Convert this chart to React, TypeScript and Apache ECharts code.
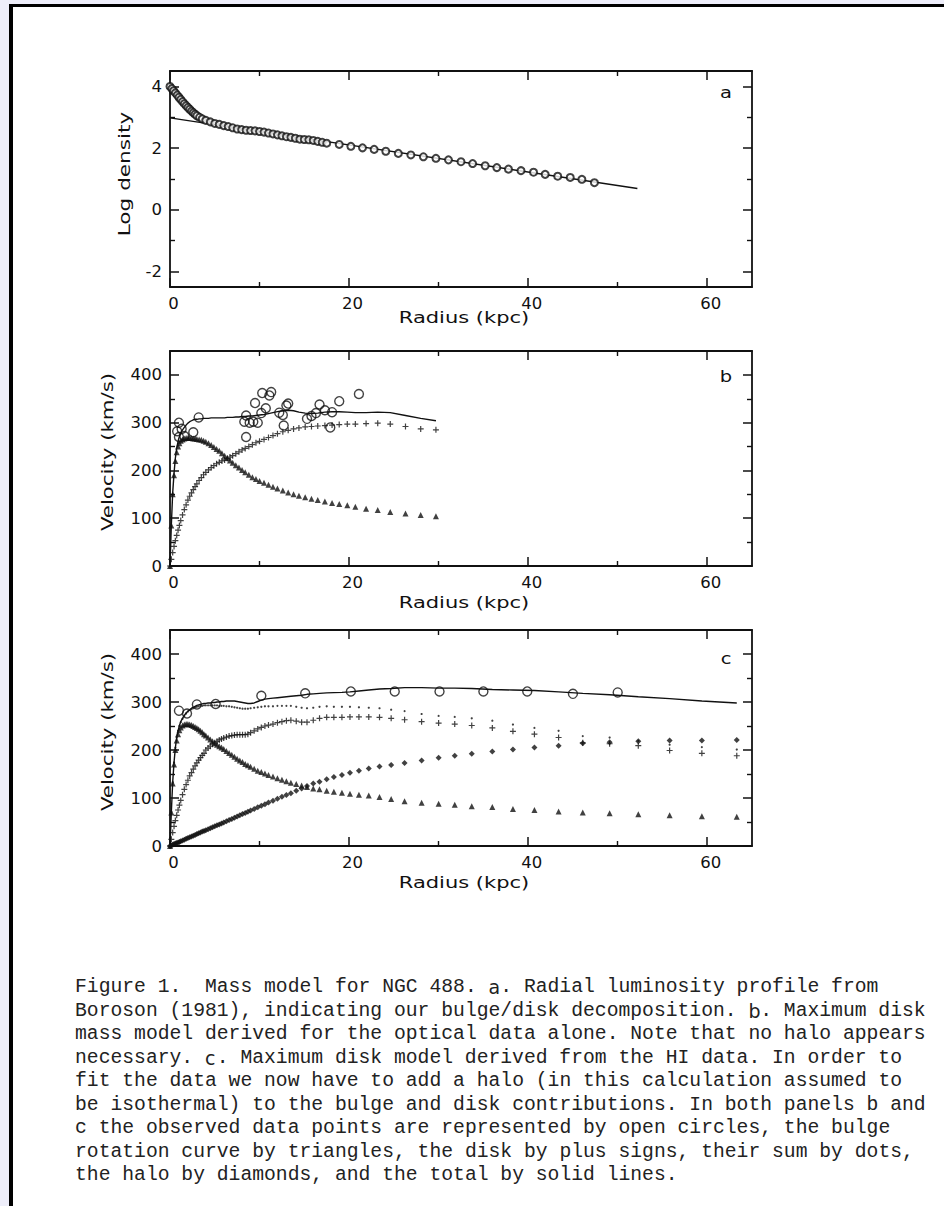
import React, { useEffect, useRef } from "react";
import * as echarts from "echarts";

// ---------- Panel a: radial luminosity profile ----------
const aRadius = [0, 0.2, 0.4, 0.6, 0.8, 1.0, 1.2, 1.4, 1.6, 1.8, 2.0, 2.2, 2.4, 2.6, 2.8, 3.0, 3.3, 3.6,
  4.0, 4.5, 5.0, 5.5, 6.0, 6.5, 7.0, 7.5, 8.0, 8.5, 9.0, 9.5, 10.0, 10.5, 11.0, 11.5, 12.0, 12.5, 13.0, 13.5,
  14.0, 14.5, 15.0, 15.5, 16.0, 16.5, 17.0, 17.5,
  18.9, 20.2, 21.5, 22.8, 24.1, 25.5, 26.9, 28.3, 29.7, 31.1, 32.5, 33.8, 35.2, 36.5, 37.8, 39.2, 40.6, 41.9,
  43.3, 44.7, 46.0, 47.4];
const aLogDensity = [4.0, 3.93, 3.86, 3.79, 3.72, 3.65, 3.58, 3.51, 3.44, 3.38, 3.32, 3.26, 3.2, 3.15, 3.1, 3.05, 3.0, 2.95,
  2.9, 2.85, 2.8, 2.77, 2.73, 2.7, 2.66, 2.62, 2.6, 2.58, 2.57, 2.56, 2.54, 2.52, 2.49, 2.46, 2.43, 2.4, 2.37, 2.35,
  2.32, 2.29, 2.28, 2.27, 2.25, 2.22, 2.19, 2.16,
  2.12, 2.06, 2.01, 1.96, 1.9, 1.83, 1.78, 1.72, 1.67, 1.62, 1.56, 1.5, 1.43, 1.37, 1.32, 1.27, 1.22, 1.15,
  1.09, 1.05, 0.99, 0.88];
const aFitRadius = [0, 52.2];
const aFitLog = [2.98, 0.69];

// ---------- Panel b: optical data, maximum disk ----------
const bRadius = [0, 0.15, 0.3, 0.45, 0.6, 0.75, 0.9, 1.05, 1.2, 1.4, 1.6, 1.8, 2.0, 2.2, 2.4, 2.6, 2.8, 3.0,
  3.25, 3.5, 3.75, 4.0, 4.3, 4.6, 4.9, 5.2, 5.5, 5.8, 6.1, 6.4, 6.7, 7.0, 7.35, 7.7, 8.05, 8.4, 8.8, 9.2, 9.6, 10.0,
  10.5, 11.0, 11.5, 12.0, 12.6, 13.2, 13.8, 14.4, 15.1, 15.8, 16.5, 17.3, 18.1, 18.9, 19.8, 20.7,
  21.9, 23.2, 24.6, 26.3, 28.0, 29.7];
const bBulge = [0, 85, 150, 190, 220, 238, 250, 257, 262, 265, 267, 268, 268, 268, 268, 267, 267, 266,
  265, 264, 262, 260, 257, 253, 249, 245, 241, 236, 231, 226, 221, 216, 211, 206, 201, 196, 191, 186, 182, 178,
  174, 170, 166, 162, 158, 154, 150, 147, 144, 141, 138, 135, 132, 130, 127, 124,
  120, 117, 113, 110, 107, 104];
const bDisk = [0, 14, 28, 41, 53, 64, 75, 85, 95, 107, 118, 128, 138, 146, 153, 160, 166, 172,
  179, 185, 191, 196, 201, 206, 210, 214, 217, 220, 222, 225, 228, 231, 235, 239, 243, 246, 250, 254, 258, 261,
  265, 269, 273, 277, 281, 284, 287, 289, 291, 292, 293, 294, 295, 296, 297, 297,
  298, 299, 297, 292, 287, 285];
const bTotal = [0, 86, 153, 194, 226, 246, 261, 271, 279, 285, 290, 295, 299, 302, 304, 306, 307, 307,
  308, 308, 309, 309, 309, 310, 310, 310, 310, 310, 310, 311, 311, 311, 312, 312, 313, 313, 314, 314, 315, 316,
  317, 319, 321, 323, 325, 326, 325, 322, 320, 319, 320, 322, 323, 323, 322, 321,
  321, 322, 321, 315, 309, 304];
const bObsRadius = [1.0, 0.8, 1.3, 1.6, 1.0, 2.6, 3.2, 8.3, 8.5, 8.5, 8.9, 9.3, 9.5, 9.8, 10.2, 10.3, 10.7, 11.1,
  11.3, 12.2, 12.6, 12.7, 13.0, 13.2, 15.3, 15.8, 16.3, 16.7, 17.3, 17.9, 18.1, 18.9, 21.1];
const bObsVel = [300, 282, 287, 272, 270, 280, 311, 302, 315, 270, 300, 302, 341, 300, 320, 362, 330, 357,
  364, 321, 316, 294, 336, 340, 308, 314, 320, 338, 326, 290, 322, 345, 360];

// ---------- Panel c: HI data, maximum disk + halo ----------
const cRadius = [0, 0.15, 0.3, 0.45, 0.6, 0.75, 0.9, 1.05, 1.2, 1.4, 1.6, 1.8, 2.0, 2.2, 2.4, 2.6, 2.8, 3.0,
  3.2, 3.4, 3.6, 3.8, 4.0, 4.25, 4.5, 4.75, 5.0, 5.25, 5.5, 5.75, 6.0,
  6.3, 6.6, 6.9, 7.2, 7.5, 7.8, 8.1, 8.4, 8.7, 9.0, 9.4, 9.8, 10.2, 10.6, 11.0,
  11.5, 12.0, 12.5, 13.0, 13.5, 14.1, 14.7, 15.3,
  16.0, 16.7, 17.5, 18.3, 19.2, 20.1, 21.1, 22.2, 23.4, 24.7,
  26.2, 28.1, 30.0, 31.8, 33.7, 36.0, 38.3, 40.7, 43.4, 46.1, 49.1, 52.3, 55.8, 59.4, 63.3];
const cBulge = [0, 70, 130, 170, 200, 220, 233, 241, 247, 251, 253, 254, 254, 253, 252, 250, 248, 246,
  243, 240, 237, 233, 230, 226, 222, 218, 214, 211, 208, 205, 202,
  198, 194, 190, 186, 182, 178, 175, 171, 168, 165, 161, 157, 154, 151, 148,
  145, 141, 138, 135, 132, 129, 126, 123,
  120, 118, 115, 113, 111, 109, 107, 105, 102, 98,
  93, 90, 88, 86, 83, 81, 77, 75, 72, 70, 68, 66, 64, 62, 61];
const cDisk = [0, 14, 28, 41, 53, 64, 75, 85, 95, 107, 118, 128, 137, 146, 153, 160, 167, 173,
  179, 184, 189, 193, 200, 204, 208, 212, 215, 218, 221, 223, 225,
  227, 229, 230, 231, 232, 232, 232, 232, 233, 236, 240, 244, 247, 250, 252,
  254, 257, 259, 261, 262, 260, 258, 258,
  262, 266, 268, 268, 268, 269, 269, 269, 268, 266,
  263, 259, 256, 254, 251, 246, 239, 233, 226, 215, 213, 209, 199, 193, 188];
const cHalo = [0, 1, 2.5, 4, 5, 6, 7.5, 8.5, 10, 11.5, 13, 15, 16.5, 18, 20, 21.5, 23, 25,
  26.5, 28, 30, 31.5, 33, 35, 37, 39, 41, 43, 45, 47, 49,
  51.5, 54, 56.5, 59, 61.5, 64, 66.5, 69, 71.5, 74, 77, 80.5, 84, 87, 90.5,
  94.5, 98.5, 102.5, 106.5, 110, 115, 120, 125,
  130, 134, 139, 143.5, 148, 152.5, 157, 161.5, 165.5, 169,
  173, 178, 184, 188, 192, 197, 201, 205, 209, 214, 216, 218, 220, 220, 221];
const cSum = [0, 71, 133, 174, 205, 226, 240, 250, 258, 265, 271, 276, 280, 283, 285, 287, 289, 290,
  291, 292, 292, 293, 293, 293, 293, 293, 293, 293, 292, 292, 292,
  291, 291, 290, 289, 288, 287, 286, 286, 286, 287, 288, 289, 290, 291, 291,
  291, 292, 292, 292, 292, 290, 288, 287,
  288, 290, 291, 290, 290, 290, 289, 288, 287, 284,
  281, 275, 271, 269, 266, 261, 253, 246, 240, 229, 226, 219, 211, 206, 201];
const cTotal = [0, 71, 133, 174, 205, 226, 240, 251, 259, 266, 272, 277, 281, 284, 287, 289, 291, 293,
  294, 295, 296, 297, 297, 298, 298, 299, 299, 300, 300, 301, 301,
  302, 302, 302, 302, 301, 300, 299, 298, 297, 297, 298, 301, 304, 306, 307,
  308, 309, 310, 311, 312, 313, 314, 316,
  317, 318, 319, 319.5, 320, 321, 323, 325, 327, 328,
  330, 330, 329, 329, 328, 326, 325, 324, 321, 318, 315, 311, 307, 302, 298];
const cObsRadius = [1.0, 1.9, 3.0, 5.1, 10.2, 15.1, 20.2, 25.1, 30.1, 35.0, 39.9, 45.0, 50.0];
const cObsVel = [282, 276, 295, 296, 313, 318, 322, 322, 322, 322, 322, 317, 320];

// ---------- Axis ticks and labels ----------
const xMajor = [0, 20, 40, 60];
const yMajorA = [-2, 0, 2, 4];
const yMajorV = [0, 100, 200, 300, 400];
const xTitle = "Radius (kpc)";
const yTitleA = "Log density";
const yTitleV = "Velocity (km/s)";
const panelLetters = ["a", "b", "c"];

const captionLines = [
  "Figure 1.  Mass model for NGC 488. {s|a}. Radial luminosity profile from",
  "Boroson (1981), indicating our bulge/disk decomposition. {s|b}. Maximum disk",
  "mass model derived for the optical data alone. Note that no halo appears",
  "necessary. {s|c}. Maximum disk model derived from the HI data. In order to",
  "fit the data we now have to add a halo (in this calculation assumed to",
  "be isothermal) to the bulge and disk contributions. In both panels b and",
  "c the observed data points are represented by open circles, the bulge",
  "rotation curve by triangles, the disk by plus signs, their sum by dots,",
  "the halo by diamonds, and the total by solid lines.",
];

const INK = "#111111";
const AX_FONT = "DejaVu Sans";
const PLUS = "path://M2,0H3V2H5V3H3V5H2V3H0V2H2Z";

const zip = (xs: number[], ys: number[]) => xs.map((x, i) => [x, ys[i]]);

const GRIDS = [
  { left: 170, top: 71, width: 582, height: 216 },
  { left: 170, top: 351, width: 582, height: 215 },
  { left: 170, top: 630, width: 582, height: 216 },
];

function xAxisFor(g: number, pos: "bottom" | "top") {
  return {
    type: "value",
    gridIndex: g,
    position: pos,
    min: 0,
    max: 65,
    interval: 20,
    axisLine: { show: true, onZero: false, lineStyle: { color: INK, width: 1.8 } },
    axisTick: { show: true, inside: true, length: 9, customValues: xMajor, lineStyle: { color: INK, width: 1.5 } },
    minorTick: { show: true, splitNumber: 2, length: 5, lineStyle: { color: INK, width: 1.4 } },
    axisLabel:
      pos === "bottom"
        ? { show: true, customValues: xMajor, margin: 8, padding: [0, 0, 0, 7], fontFamily: AX_FONT, fontSize: 16.5, color: INK }
        : { show: false },
    splitLine: { show: false },
    minorSplitLine: { show: false },
  };
}

function yAxisFor(g: number, pos: "left" | "right") {
  const isA = g === 0;
  const major = isA ? yMajorA : yMajorV;
  const base: any = {
    type: "value",
    gridIndex: g,
    position: pos,
    min: isA ? -2.5 : 0,
    max: isA ? 4.5 : 450,
    axisLine: { show: true, onZero: false, lineStyle: { color: INK, width: 1.8 } },
    axisTick: { show: true, inside: true, length: 9, customValues: major, lineStyle: { color: INK, width: 1.5 } },
    minorTick: { show: true, splitNumber: 2, length: 5, lineStyle: { color: INK, width: 1.4 } },
    axisLabel:
      pos === "left"
        ? { show: true, customValues: major, margin: 8, fontFamily: AX_FONT, fontSize: 16.5, color: INK }
        : { show: false },
    splitLine: { show: false },
    minorSplitLine: { show: false },
  };
  if (isA) base.splitNumber = 3;
  else base.interval = 100;
  return base;
}

function textEl(text: string, x: number, y: number, rot = 0, sx = 1.4, size = 15) {
  return {
    type: "text",
    x,
    y,
    rotation: rot,
    scaleX: sx,
    silent: true,
    z: 10,
    style: {
      text,
      fontFamily: AX_FONT,
      fontSize: size,
      fill: INK,
      align: "center",
      verticalAlign: "middle",
      textAlign: "center",
      textVerticalAlign: "middle",
    },
  };
}

function buildOption() {
  const xAxes: any[] = [];
  const yAxes: any[] = [];
  for (let g = 0; g < 3; g++) {
    xAxes.push(xAxisFor(g, "bottom"), xAxisFor(g, "top"));
    yAxes.push(yAxisFor(g, "left"), yAxisFor(g, "right"));
  }
  const on = (g: number) => ({ xAxisIndex: 2 * g, yAxisIndex: 2 * g });
  const tri = (g: number, xs: number[], ys: number[]) => ({
    type: "scatter", ...on(g), data: zip(xs, ys), symbol: "triangle", symbolSize: 6,
    itemStyle: { color: INK }, z: 3,
  });
  const plus = (g: number, xs: number[], ys: number[]) => ({
    type: "scatter", ...on(g), data: zip(xs, ys), symbol: PLUS, symbolSize: 6,
    itemStyle: { color: INK }, z: 3,
  });
  const obs = (g: number, xs: number[], ys: number[]) => ({
    type: "scatter", ...on(g), data: zip(xs, ys), symbol: "circle", symbolSize: 9,
    itemStyle: { color: "rgba(0,0,0,0)", borderColor: INK, borderWidth: 1.4 }, z: 4,
  });
  const total = (g: number, xs: number[], ys: number[]) => ({
    type: "line", ...on(g), data: zip(xs, ys), symbol: "none", showSymbol: false,
    lineStyle: { color: INK, width: 1.4 }, z: 2,
  });

  const series: any[] = [
    // a
    { type: "line", ...on(0), data: zip(aFitRadius, aFitLog), symbol: "none", showSymbol: false,
      lineStyle: { color: INK, width: 1.4 }, z: 2 },
    { type: "scatter", ...on(0), data: zip(aRadius, aLogDensity), symbol: "circle", symbolSize: 7,
      itemStyle: { color: "#ffffff", borderColor: INK, borderWidth: 2 }, z: 3 },
    // b
    total(1, bRadius, bTotal),
    tri(1, bRadius, bBulge),
    plus(1, bRadius, bDisk),
    obs(1, bObsRadius, bObsVel),
    // c
    total(2, cRadius, cTotal),
    { type: "scatter", ...on(2), data: zip(cRadius, cSum), symbol: "circle", symbolSize: 2.2,
      itemStyle: { color: INK }, z: 3 },
    { type: "scatter", ...on(2), data: zip(cRadius, cHalo), symbol: "diamond", symbolSize: 6,
      itemStyle: { color: INK }, z: 3 },
    plus(2, cRadius, cDisk),
    tri(2, cRadius, cBulge),
    obs(2, cObsRadius, cObsVel),
  ];

  const graphics: any[] = [
    textEl(xTitle, 464, 318),
    textEl(xTitle, 464, 603),
    textEl(xTitle, 464, 883),
    textEl(yTitleA, 125, 174, Math.PI / 2, 1.44),
    textEl(yTitleV, 108, 452, Math.PI / 2, 1.42),
    textEl(yTitleV, 108, 732, Math.PI / 2, 1.42),
    textEl(panelLetters[0], 726, 93, 0, 1.3, 15),
    textEl(panelLetters[1], 726, 377, 0, 1.3, 15),
    textEl(panelLetters[2], 726, 659, 0, 1.3, 15),
  ];
  captionLines.forEach((line, i) => {
    graphics.push({
      type: "text",
      x: 75,
      y: 987 + i * 23.5,
      silent: true,
      style: {
        text: line,
        fontFamily: "Liberation Mono",
        fontSize: 19.7,
        fill: "#222222",
        align: "left",
        verticalAlign: "middle",
        textAlign: "left",
        textVerticalAlign: "middle",
        rich: {
          s: { fontFamily: "DejaVu Sans", fontSize: 19, fill: "#222222", width: 11.8 },
        },
      },
    });
  });

  return {
    animation: false,
    backgroundColor: "transparent",
    tooltip: { show: false },
    grid: GRIDS.map((g) => ({ ...g, containLabel: false, outerBoundsMode: "none" })),
    xAxis: xAxes,
    yAxis: yAxes,
    series,
    graphic: { elements: graphics },
  };
}

export default function App() {
  const ref = useRef<HTMLDivElement>(null);
  useEffect(() => {
    if (!ref.current) return;
    const chart = echarts.init(ref.current, null, { renderer: "svg", width: 944, height: 1206 });
    chart.setOption(buildOption() as any);
    return () => chart.dispose();
  }, []);
  return (
    <div style={{ position: "absolute", left: 0, top: 0, width: 944, height: 1206, background: "#eeeefa", overflow: "hidden" }}>
      <div style={{ position: "absolute", left: 9, top: 4, right: 0, bottom: 0, background: "#000" }} />
      <div style={{ position: "absolute", left: 13, top: 7, right: 0, bottom: 0, background: "#fff" }} />
      <div ref={ref} style={{ position: "absolute", left: 0, top: 0, width: 944, height: 1206 }} />
    </div>
  );
}
